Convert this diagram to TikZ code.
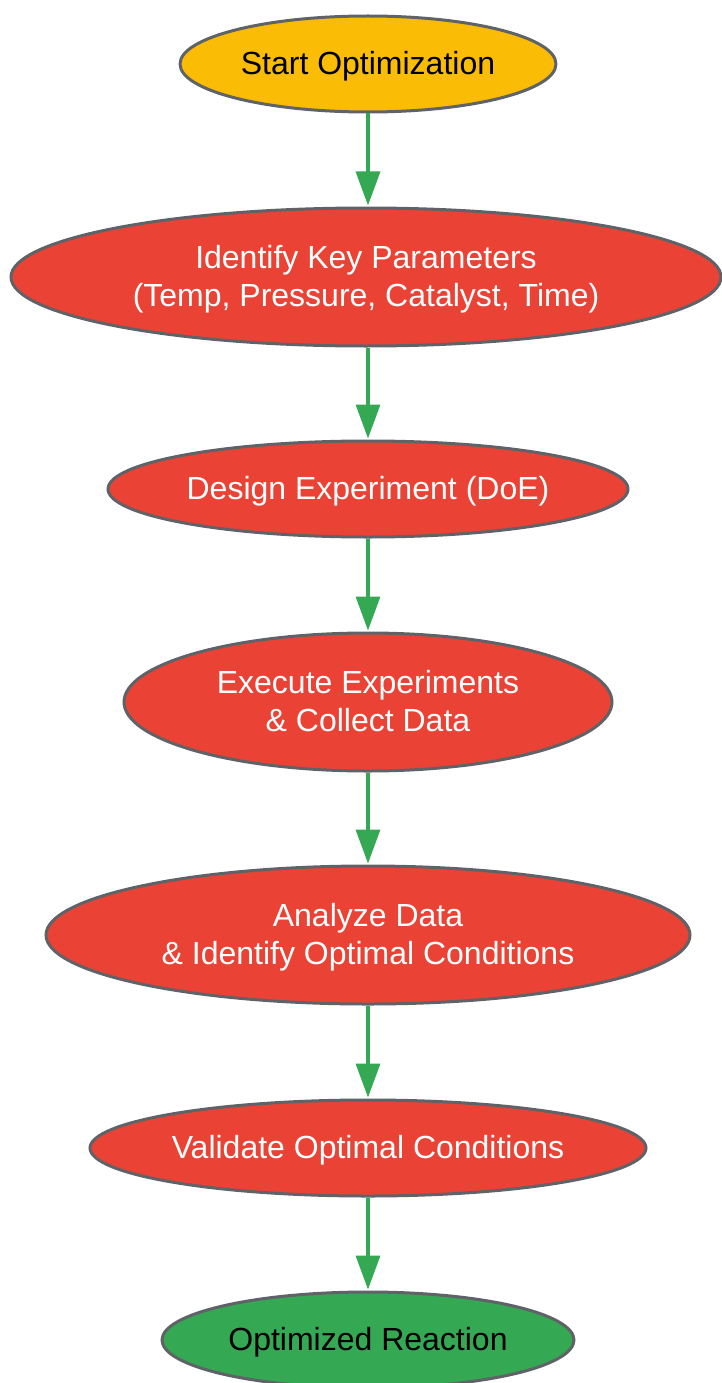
\documentclass[tikz,border=0pt]{standalone}
\usepackage{fontspec}
\setmainfont{Liberation Sans}
\usetikzlibrary{shapes.geometric,arrows.meta}
\definecolor{gyellow}{HTML}{FBBC05}
\definecolor{gred}{HTML}{EA4335}
\definecolor{ggreen}{HTML}{34A853}
\definecolor{gborder}{HTML}{5F6368}
\newcommand{\tx}[1]{\raisebox{-3pt}[\height][\depth]{\begin{tabular}{@{}c@{}}#1\end{tabular}}}
\tikzset{
  stepnode/.style={ellipse, draw=gborder, line width=3pt, inner sep=0pt,
    font=\fontsize{32pt}{38pt}\selectfont},
  redstep/.style={stepnode, fill=gred, text=white},
  flowarrow/.style={draw=ggreen, line width=3.5pt, -{Triangle[length=34pt,width=24pt]}, shorten >=1pt}
}
\begin{document}
\begin{tikzpicture}[x=1pt,y=-1pt]
\useasboundingbox (0,0) rectangle (721,1383);
\node[stepnode, fill=gyellow, text=black, minimum width=376pt, minimum height=96pt] (n1) at (368,64) {\tx{Start Optimization}};
\node[redstep, minimum width=710pt, minimum height=138pt] (n2) at (366,277) {\tx{Identify Key Parameters\\(Temp, Pressure, Catalyst, Time)}};
\node[redstep, minimum width=520pt, minimum height=96pt] (n3) at (368,489) {\tx{Design Experiment (DoE)}};
\node[redstep, minimum width=488pt, minimum height=138pt] (n4) at (368,702) {\tx{Execute Experiments\\\& Collect Data}};
\node[redstep, minimum width=644pt, minimum height=138pt] (n5) at (368,935) {\tx{Analyze Data\\\& Identify Optimal Conditions}};
\node[redstep, minimum width=556pt, minimum height=96pt] (n6) at (368,1148) {\tx{Validate Optimal Conditions}};
\node[stepnode, fill=ggreen, text=black, minimum width=412pt, minimum height=96pt] (n7) at (368,1340) {\tx{Optimized Reaction}};
\draw[flowarrow] (n1.south -| 368,0) -- (n2.north -| 368,0);
\draw[flowarrow] (n2.south -| 368,0) -- (n3.north);
\draw[flowarrow] (n3) -- (n4);
\draw[flowarrow] (n4) -- (n5);
\draw[flowarrow] (n5) -- (n6);
\draw[flowarrow] (n6) -- (n7);
\end{tikzpicture}
\end{document}
